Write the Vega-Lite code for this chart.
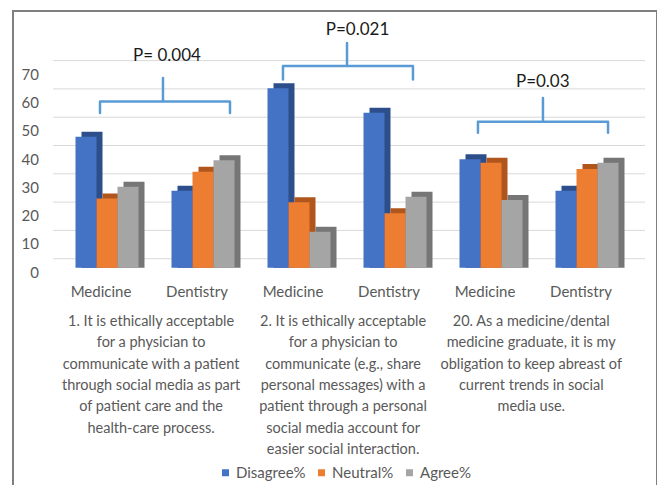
{
  "$schema": "https://vega.github.io/schema/vega-lite/v6.json",
  "width": 644,
  "height": 480,
  "autosize": {"type": "none"},
  "padding": {"left": 13, "top": 11, "right": 0, "bottom": 0},
  "config": {"view": {"stroke": "#7f7f7f", "strokeWidth": 2}, "font": "Lato"},
  "datasets": {
    "bars": [
      {"cat": "Q1 Medicine", "series": "Disagree%", "value": 46.3},
      {"cat": "Q1 Medicine", "series": "Neutral%", "value": 24.5},
      {"cat": "Q1 Medicine", "series": "Agree%", "value": 28.6},
      {"cat": "Q1 Dentistry", "series": "Disagree%", "value": 27.2},
      {"cat": "Q1 Dentistry", "series": "Neutral%", "value": 33.9},
      {"cat": "Q1 Dentistry", "series": "Agree%", "value": 38.0},
      {"cat": "Q2 Medicine", "series": "Disagree%", "value": 63.4},
      {"cat": "Q2 Medicine", "series": "Neutral%", "value": 23.1},
      {"cat": "Q2 Medicine", "series": "Agree%", "value": 12.7},
      {"cat": "Q2 Dentistry", "series": "Disagree%", "value": 54.8},
      {"cat": "Q2 Dentistry", "series": "Neutral%", "value": 19.2},
      {"cat": "Q2 Dentistry", "series": "Agree%", "value": 25.1},
      {"cat": "Q3 Medicine", "series": "Disagree%", "value": 38.3},
      {"cat": "Q3 Medicine", "series": "Neutral%", "value": 37.1},
      {"cat": "Q3 Medicine", "series": "Agree%", "value": 23.9},
      {"cat": "Q3 Dentistry", "series": "Disagree%", "value": 27.2},
      {"cat": "Q3 Dentistry", "series": "Neutral%", "value": 34.9},
      {"cat": "Q3 Dentistry", "series": "Agree%", "value": 37.1}
    ],
    "groups": [
      {"cat": "Q1 Medicine", "label": "Medicine"},
      {"cat": "Q1 Dentistry", "label": "Dentistry"},
      {"cat": "Q2 Medicine", "label": "Medicine"},
      {"cat": "Q2 Dentistry", "label": "Dentistry"},
      {"cat": "Q3 Medicine", "label": "Medicine"},
      {"cat": "Q3 Dentistry", "label": "Dentistry"}
    ],
    "grid": [{"v": 0}, {"v": 10}, {"v": 20}, {"v": 30}, {"v": 40}, {"v": 50}, {"v": 60}, {"v": 70}],
    "brackets": [
      {"q": "Q1", "i": 1, "x": 0.448, "y": 54.7},
      {"q": "Q1", "i": 2, "x": 0.448, "y": 58.7},
      {"q": "Q1", "i": 3, "x": 1.104, "y": 58.7},
      {"q": "Q1", "i": 4, "x": 1.104, "y": 67.0},
      {"q": "Q1", "i": 5, "x": 1.104, "y": 58.7},
      {"q": "Q1", "i": 6, "x": 1.802, "y": 58.7},
      {"q": "Q1", "i": 7, "x": 1.802, "y": 54.7},
      {"q": "Q2", "i": 1, "x": 2.354, "y": 66.5},
      {"q": "Q2", "i": 2, "x": 2.354, "y": 71.3},
      {"q": "Q2", "i": 3, "x": 3.021, "y": 71.3},
      {"q": "Q2", "i": 4, "x": 3.021, "y": 79.4},
      {"q": "Q2", "i": 5, "x": 3.021, "y": 71.3},
      {"q": "Q2", "i": 6, "x": 3.708, "y": 71.3},
      {"q": "Q2", "i": 7, "x": 3.708, "y": 66.5},
      {"q": "Q3", "i": 1, "x": 4.385, "y": 47.7},
      {"q": "Q3", "i": 2, "x": 4.385, "y": 51.6},
      {"q": "Q3", "i": 3, "x": 5.062, "y": 51.6},
      {"q": "Q3", "i": 4, "x": 5.062, "y": 60.0},
      {"q": "Q3", "i": 5, "x": 5.062, "y": 51.6},
      {"q": "Q3", "i": 6, "x": 5.74, "y": 51.6},
      {"q": "Q3", "i": 7, "x": 5.74, "y": 47.7}
    ],
    "pvalues": [
      {"x": 1.146, "y": 74.8, "label": "P= 0.004"},
      {"x": 3.13, "y": 84.0, "label": "P=0.021"},
      {"x": 5.06, "y": 65.7, "label": "P=0.03"}
    ],
    "questions": [
      {"x": 0.98, "text": "1. It is ethically acceptable\nfor a physician to\ncommunicate with a patient\nthrough social media as part\nof patient care and the\nhealth-care process."},
      {"x": 2.98, "text": "2. It is ethically acceptable\nfor a physician to\ncommunicate (e.g., share\npersonal messages) with a\npatient through a personal\nsocial media account for\neasier social interaction."},
      {"x": 4.94, "text": "20. As a medicine/dental\nmedicine graduate, it is my\nobligation to keep abreast of\ncurrent trends in social\nmedia use."}
    ]
  },
  "resolve": {"scale": {"x": "independent"}},
  "layer": [
    {
      "layer": [
        {
          "data": {"name": "grid"},
          "mark": {"type": "rule", "color": "#d9d9d9", "strokeWidth": 1, "yOffset": -9, "y2Offset": -9},
          "encoding": {
            "x": {"datum": -0.04, "type": "quantitative", "scale": {"domain": [0, 6], "range": [44, 620]}, "axis": null},
            "x2": {"datum": 6.125},
            "y": {"field": "v", "type": "quantitative", "scale": {"domain": [-78.9, 90.71], "nice": false, "zero": false}, "axis": null}
          }
        },
        {
          "data": {"name": "grid"},
          "mark": {"type": "text", "align": "right", "baseline": "middle", "fontSize": 15, "color": "#595959", "dy": 5},
          "encoding": {
            "x": {"datum": -0.1875, "type": "quantitative", "scale": {"domain": [0, 6], "range": [44, 620]}, "axis": null},
            "y": {"field": "v", "type": "quantitative", "scale": {"domain": [-78.9, 90.71], "nice": false, "zero": false}, "axis": null},
            "text": {"field": "v", "type": "quantitative"}
          }
        }
      ]
    },
    {
      "resolve": {"scale": {"color": "independent", "xOffset": "independent"}},
      "layer": [
        {
          "data": {"name": "bars"},
          "mark": {"type": "bar", "yOffset": -5, "y2Offset": -5},
          "encoding": {
            "x": {"field": "cat", "type": "nominal", "scale": {"domain": ["Q1 Medicine", "Q1 Dentistry", "Q2 Medicine", "Q2 Dentistry", "Q3 Medicine", "Q3 Dentistry"], "range": [46, 622], "paddingInner": 0, "paddingOuter": 0}, "axis": null},
            "xOffset": {"field": "series", "type": "nominal", "scale": {"domain": ["Disagree%", "Neutral%", "Agree%"], "paddingInner": 0, "paddingOuter": 0.7857, "align": 0.682}},
            "y": {"field": "value", "type": "quantitative", "stack": null, "scale": {"domain": [-78.9, 90.71], "nice": false, "zero": false}, "axis": null},
            "color": {"field": "series", "type": "nominal", "scale": {"domain": ["Disagree%", "Neutral%", "Agree%"], "range": ["#2c4f8c", "#b0561c", "#767676"]}, "legend": null}
          }
        },
        {
          "data": {"name": "bars"},
          "mark": {"type": "bar"},
          "encoding": {
            "x": {"field": "cat", "type": "nominal", "scale": {"domain": ["Q1 Medicine", "Q1 Dentistry", "Q2 Medicine", "Q2 Dentistry", "Q3 Medicine", "Q3 Dentistry"], "range": [46, 622], "paddingInner": 0, "paddingOuter": 0}, "axis": null},
            "xOffset": {"field": "series", "type": "nominal", "scale": {"domain": ["Disagree%", "Neutral%", "Agree%"], "paddingInner": 0, "paddingOuter": 0.7857}},
            "y": {"field": "value", "type": "quantitative", "stack": null, "scale": {"domain": [-78.9, 90.71], "nice": false, "zero": false}, "axis": null},
            "color": {"field": "series", "type": "nominal", "scale": {"domain": ["Disagree%", "Neutral%", "Agree%"], "range": ["#4472c4", "#ed7d31", "#a5a5a5"]},
              "legend": {"orient": "none", "legendX": 205, "legendY": 454, "direction": "horizontal", "columns": 3, "title": null, "symbolType": "square", "symbolSize": 49, "symbolStrokeWidth": 0, "labelFont": "Lato", "labelFontSize": 15, "labelColor": "#595959", "columnPadding": 8, "gridAlign": "each", "labelOffset": 3, "padding": 0}}
          }
        },
        {
          "data": {"name": "groups"},
          "mark": {"type": "text", "fontSize": 15, "color": "#595959", "baseline": "middle", "align": "center", "dx": -6},
          "encoding": {
            "x": {"field": "cat", "type": "nominal", "scale": {"domain": ["Q1 Medicine", "Q1 Dentistry", "Q2 Medicine", "Q2 Dentistry", "Q3 Medicine", "Q3 Dentistry"], "range": [46, 622], "paddingInner": 0, "paddingOuter": 0}, "axis": null},
            "y": {"datum": -8.6, "type": "quantitative", "scale": {"domain": [-78.9, 90.71], "nice": false, "zero": false}, "axis": null},
            "text": {"field": "label"}
          }
        }
      ]
    },
    {
      "layer": [
        {
          "data": {"name": "brackets"},
          "mark": {"type": "line", "color": "#5b9bd5", "strokeWidth": 2.5, "strokeJoin": "round", "strokeCap": "round"},
          "encoding": {
            "x": {"field": "x", "type": "quantitative", "scale": {"domain": [0, 6], "range": [44, 620]}, "axis": null},
            "y": {"field": "y", "type": "quantitative", "scale": {"domain": [-78.9, 90.71], "nice": false, "zero": false}, "axis": null},
            "detail": {"field": "q"},
            "order": {"field": "i", "type": "quantitative"}
          }
        },
        {
          "data": {"name": "pvalues"},
          "mark": {"type": "text", "fontSize": 17, "color": "#1a1a1a", "baseline": "middle", "align": "center"},
          "encoding": {
            "x": {"field": "x", "type": "quantitative", "scale": {"domain": [0, 6], "range": [44, 620]}, "axis": null},
            "y": {"field": "y", "type": "quantitative", "scale": {"domain": [-78.9, 90.71], "nice": false, "zero": false}, "axis": null},
            "text": {"field": "label"}
          }
        },
        {
          "data": {"name": "questions"},
          "mark": {"type": "text", "fontSize": 14.5, "color": "#595959", "baseline": "alphabetic", "align": "center", "lineBreak": "\n", "lineHeight": 21.3},
          "encoding": {
            "x": {"field": "x", "type": "quantitative", "scale": {"domain": [0, 6], "range": [44, 620]}, "axis": null},
            "y": {"datum": -20.6, "type": "quantitative", "scale": {"domain": [-78.9, 90.71], "nice": false, "zero": false}, "axis": null},
            "text": {"field": "text"}
          }
        }
      ]
    }
  ]
}
